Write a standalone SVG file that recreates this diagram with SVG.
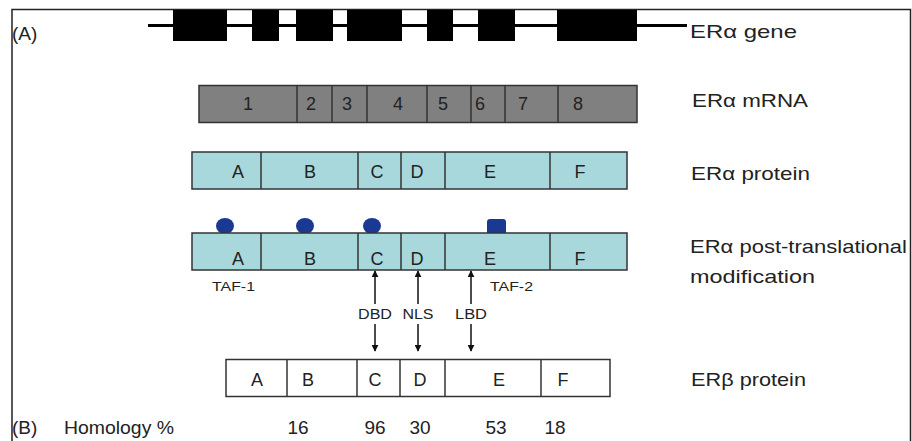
<svg xmlns="http://www.w3.org/2000/svg" width="912" height="441" viewBox="0 0 912 441">
<defs>
<style>
text{font-family:"Liberation Sans",Arial,sans-serif;fill:#222}
.lab{font-size:19px}
.box{font-size:18px;text-anchor:middle}
.small{font-size:13px}
.arr{font-size:14px;text-anchor:middle}
.mrna{fill:#808080;stroke:#333;stroke-width:1.5}
.prot{fill:#a8d8dc;stroke:#333;stroke-width:1.5}
.beta{fill:#fff;stroke:#333;stroke-width:1.5}
.div{stroke:#333;stroke-width:1.5}
.exon{fill:#000}
.conn{stroke:#111;stroke-width:1.5;fill:none;marker-end:url(#ah)}
.mod{fill:#1a3992}
</style>
<marker id="ah" viewBox="0 0 10 10" refX="9" refY="5" markerWidth="7" markerHeight="7" orient="auto" markerUnits="userSpaceOnUse">
<path d="M0,0 L10,5 L0,10 z" fill="#111"/>
</marker>
</defs>
<rect width="912" height="441" fill="#fff"/>
<g id="frame" stroke="#222" stroke-width="1.5" fill="none">
<path d="M12,441 V9.5 H910.5 V441"/>
</g>
<text class="lab" x="12" y="40">(A)</text>
<g id="gene">
<line x1="148" y1="25.5" x2="687" y2="25.5" stroke="#000" stroke-width="3"/>
<rect class="exon" x="173" y="10" width="54" height="31"/>
<rect class="exon" x="252" y="10" width="27" height="31"/>
<rect class="exon" x="296" y="10" width="37" height="31"/>
<rect class="exon" x="347" y="10" width="55" height="31"/>
<rect class="exon" x="427" y="10" width="26" height="31"/>
<rect class="exon" x="478" y="10" width="37" height="31"/>
<rect class="exon" x="557" y="10" width="80" height="31"/>
<text class="lab" x="690" y="38" textLength="107" lengthAdjust="spacingAndGlyphs">ERα gene</text>
</g>
<g id="mrna">
<rect class="mrna" x="199" y="85.5" width="438" height="37"/>
<line class="div" x1="297" y1="85.5" x2="297" y2="122.5"/>
<line class="div" x1="332" y1="85.5" x2="332" y2="122.5"/>
<line class="div" x1="367" y1="85.5" x2="367" y2="122.5"/>
<line class="div" x1="427" y1="85.5" x2="427" y2="122.5"/>
<line class="div" x1="471" y1="85.5" x2="471" y2="122.5"/>
<line class="div" x1="505" y1="85.5" x2="505" y2="122.5"/>
<line class="div" x1="558" y1="85.5" x2="558" y2="122.5"/>
<text class="box" x="248" y="110">1</text>
<text class="box" x="311" y="110">2</text>
<text class="box" x="347" y="110">3</text>
<text class="box" x="398" y="110">4</text>
<text class="box" x="443" y="110">5</text>
<text class="box" x="480" y="110">6</text>
<text class="box" x="523" y="110">7</text>
<text class="box" x="578" y="110">8</text>
<text class="lab" x="692" y="107" textLength="116" lengthAdjust="spacingAndGlyphs">ERα mRNA</text>
</g>
<g id="alpha-protein">
<rect class="prot" x="192" y="152" width="435" height="37"/>
<line class="div" x1="261" y1="152" x2="261" y2="189"/>
<line class="div" x1="358" y1="152" x2="358" y2="189"/>
<line class="div" x1="401" y1="152" x2="401" y2="189"/>
<line class="div" x1="445" y1="152" x2="445" y2="189"/>
<line class="div" x1="550" y1="152" x2="550" y2="189"/>
<text class="box" x="238" y="178">A</text>
<text class="box" x="310" y="178">B</text>
<text class="box" x="377" y="178">C</text>
<text class="box" x="417" y="178">D</text>
<text class="box" x="490" y="178">E</text>
<text class="box" x="580" y="178">F</text>
<text class="lab" x="691" y="180" textLength="119" lengthAdjust="spacingAndGlyphs">ERα protein</text>
</g>
<g id="alpha-ptm">
<ellipse class="mod" cx="225" cy="226" rx="9" ry="8"/>
<ellipse class="mod" cx="305" cy="226" rx="9" ry="8"/>
<ellipse class="mod" cx="372" cy="226" rx="9" ry="8"/>
<rect class="mod" x="487" y="219" width="19" height="16" rx="3"/>
<rect class="prot" x="192" y="233" width="435" height="37"/>
<line class="div" x1="261" y1="233" x2="261" y2="270"/>
<line class="div" x1="358" y1="233" x2="358" y2="270"/>
<line class="div" x1="401" y1="233" x2="401" y2="270"/>
<line class="div" x1="445" y1="233" x2="445" y2="270"/>
<line class="div" x1="550" y1="233" x2="550" y2="270"/>
<text class="box" x="238" y="265">A</text>
<text class="box" x="310" y="265">B</text>
<text class="box" x="377" y="265">C</text>
<text class="box" x="417" y="265">D</text>
<text class="box" x="490" y="265">E</text>
<text class="box" x="580" y="265">F</text>
<text class="small" x="212" y="291" textLength="43" lengthAdjust="spacingAndGlyphs">TAF-1</text>
<text class="small" x="490" y="291" textLength="43" lengthAdjust="spacingAndGlyphs">TAF-2</text>
<text class="lab" x="690" y="253" textLength="217" lengthAdjust="spacingAndGlyphs">ERα post-translational</text>
<text class="lab" x="690" y="283" textLength="125" lengthAdjust="spacingAndGlyphs">modification</text>
</g>
<g id="connectors">
<line class="conn" x1="375" y1="304" x2="375" y2="271"/>
<line class="conn" x1="418" y1="304" x2="418" y2="271"/>
<line class="conn" x1="471" y1="304" x2="471" y2="271"/>
<line class="conn" x1="375" y1="324" x2="375" y2="351"/>
<line class="conn" x1="418" y1="324" x2="418" y2="351"/>
<line class="conn" x1="471" y1="324" x2="471" y2="351"/>
<text class="arr" x="375" y="319" textLength="34" lengthAdjust="spacingAndGlyphs">DBD</text>
<text class="arr" x="418" y="319" textLength="31" lengthAdjust="spacingAndGlyphs">NLS</text>
<text class="arr" x="471" y="319" textLength="32" lengthAdjust="spacingAndGlyphs">LBD</text>
</g>
<g id="beta-protein">
<rect class="beta" x="226" y="359.5" width="384" height="37"/>
<line class="div" x1="287" y1="359.5" x2="287" y2="396.5"/>
<line class="div" x1="357" y1="359.5" x2="357" y2="396.5"/>
<line class="div" x1="400" y1="359.5" x2="400" y2="396.5"/>
<line class="div" x1="445" y1="359.5" x2="445" y2="396.5"/>
<line class="div" x1="541" y1="359.5" x2="541" y2="396.5"/>
<text class="box" x="257" y="386">A</text>
<text class="box" x="308" y="386">B</text>
<text class="box" x="375" y="386">C</text>
<text class="box" x="420" y="386">D</text>
<text class="box" x="499" y="386">E</text>
<text class="box" x="563" y="386">F</text>
<text class="lab" x="691" y="386" textLength="115" lengthAdjust="spacingAndGlyphs">ERβ protein</text>
</g>
<g id="homology">
<text class="lab" x="12" y="434">(B)</text>
<text class="lab" x="64" y="434" textLength="110" lengthAdjust="spacingAndGlyphs">Homology %</text>
<text class="lab" x="298" y="434" text-anchor="middle">16</text>
<text class="lab" x="375" y="434" text-anchor="middle">96</text>
<text class="lab" x="420" y="434" text-anchor="middle">30</text>
<text class="lab" x="496" y="434" text-anchor="middle">53</text>
<text class="lab" x="555" y="434" text-anchor="middle">18</text>
</g>
</svg>
